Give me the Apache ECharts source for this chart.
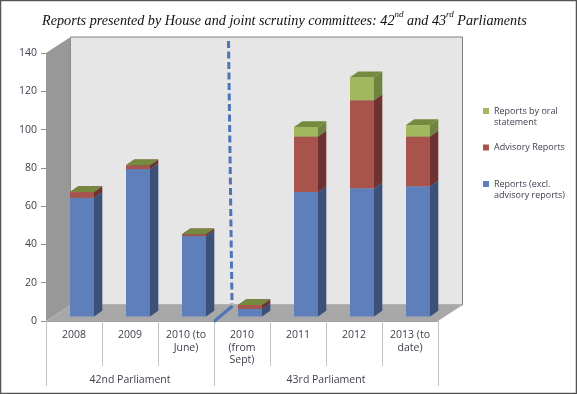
<!DOCTYPE html>
<html>
<head>
<meta charset="utf-8">
<style>html,body{margin:0;padding:0;background:#fff}#c{width:577px;height:394px}</style>
<script src="https://cdn.jsdelivr.net/npm/echarts@6/dist/echarts.min.js"></script>
</head>
<body>
<div id="c"></div>
<script>
var categories = ['2008', '2009', '2010 (to\nJune)', '2010\n(from\nSept)', '2011', '2012', '2013 (to\ndate)'];
var parliaments = ['42nd Parliament', '43rd Parliament'];
var parliamentCentres = [1.5, 5];
var parliamentBounds = [0, 3, 7];
var reports = [62, 77, 42, 4, 65, 67, 68];
var advisory = [3, 2, 1, 2, 29, 46, 26];
var oral = [0, 0, 0, 0, 5, 12, 6];
var yTicks = [0, 140];

var FONT = '"Open Sans"';
var TEXT = '#404050';
var seriesDefs = [
  {name: 'Reports (excl. advisory reports)', values: reports, front: '#5f7fba', side: '#3c5078', top: '#4a6494'},
  {name: 'Advisory Reports', values: advisory, front: '#a8544c', side: '#6e3330', top: '#86403a'},
  {name: 'Reports by oral statement', values: oral, front: '#a1b85f', side: '#6f853f', top: '#75893f'}
];
var legendNames = ['Reports by oral statement', 'Advisory Reports', 'Reports (excl. advisory reports)'];
var legendText = {
  'Reports by oral statement': '\nReports by oral\nstatement',
  'Advisory Reports': 'Advisory Reports',
  'Reports (excl. advisory reports)': '\nReports (excl.\nadvisory reports)'
};

var WALL_DX = 24.5, WALL_DY = -16;
var BAR_OFF_X = 8, BAR_OFF_Y = -4.5, BAR_DX = 8.3, BAR_DY = -5.7, BAR_W = 24;

function renderWalls(params, api) {
  var cs = params.coordSys;
  var x0 = cs.x, x1 = cs.x + cs.width, yT = cs.y, yB = cs.y + cs.height;
  var d = WALL_DX, h = WALL_DY;
  var divide = x0 + cs.width * 3 / 7;
  return {
    type: 'group',
    children: [
      {type: 'rect', shape: {x: x0 + d, y: yT + h, width: cs.width, height: cs.height},
        style: {fill: '#e6e6e6', stroke: '#808080', lineWidth: 1}},
      {type: 'polygon', shape: {points: [[x0, yT], [x0 + d, yT + h], [x0 + d, yB + h], [x0, yB]]},
        style: {fill: '#989898'}},
      {type: 'polygon', shape: {points: [[x0, yB], [x1, yB], [x1 + d, yB + h], [x0 + d, yB + h]]},
        style: {fill: '#a8a8a8'}},
      {type: 'line', shape: {x1: divide + 14.5, y1: yT - 12, x2: divide + 18, y2: yB - 17},
        style: {stroke: '#4f74b8', lineWidth: 3, lineDash: [7, 3.5]}},
      {type: 'line', shape: {x1: divide + 18.5, y1: yB - 15, x2: divide, y2: yB + 0.5},
        style: {stroke: '#4f74b8', lineWidth: 3}}
    ]
  };
}

function makeRender(def) {
  return function (params, api) {
    var i = api.value(0);
    var lo = api.coord([i, api.value(1)]);
    var hi = api.coord([i, api.value(2)]);
    var x0 = lo[0] - BAR_W / 2 + BAR_OFF_X, x1 = x0 + BAR_W;
    var yb = lo[1] + BAR_OFF_Y, yt = hi[1] + BAR_OFF_Y;
    var dx = BAR_DX, dy = BAR_DY;
    return {
      type: 'group',
      children: [
        {type: 'polygon', shape: {points: [[x1, yb], [x1 + dx, yb + dy], [x1 + dx, yt + dy], [x1, yt]]},
          style: {fill: def.side}},
        {type: 'rect', shape: {x: x0, y: yt, width: BAR_W, height: yb - yt},
          style: {fill: def.front}},
        {type: 'polygon', shape: {points: [[x0, yt], [x1, yt], [x1 + dx, yt + dy], [x0 + dx, yt + dy]]},
          style: {fill: def.top}}
      ]
    };
  };
}

var cumulative = categories.map(function () { return 0; });
var barSeries = seriesDefs.map(function (def, k) {
  var rows = def.values.map(function (v, i) {
    var start = cumulative[i];
    cumulative[i] = start + v;
    return [i, start, start + v];
  });
  return {
    type: 'custom', name: def.name, renderItem: makeRender(def), clip: false, silent: true,
    z: 5 + k, itemStyle: {color: def.front}, legendIcon: 'rect',
    encode: {x: 0, y: [1, 2]}, data: rows
  };
});

var chart = echarts.init(document.getElementById('c'), null, {renderer: 'canvas'});
chart.setOption({
  animation: false,
  backgroundColor: '#fff',
  textStyle: {fontFamily: FONT},
  title: {
    left: 37, top: 5,
    text: '{i|Reports presented by House and joint scrutiny committees: 42}{s|nd}{i| and 43}{s|rd}{i| Parliaments}',
    textStyle: {
      fontWeight: 'normal',
      rich: {
        i: {fontFamily: 'Liberation Serif', fontStyle: 'italic', fontWeight: 'normal', fontSize: 14.2, color: '#111', lineHeight: 18, verticalAlign: 'bottom'},
        s: {fontFamily: 'Liberation Serif', fontStyle: 'italic', fontWeight: 'normal', fontSize: 9, color: '#111', lineHeight: 18, verticalAlign: 'top'}
      }
    }
  },
  legend: {
    orient: 'vertical', left: 483, top: 94.5, itemWidth: 6, itemHeight: 6, itemGap: 14.5, icon: 'rect',
    data: legendNames, padding: 0, selectedMode: false,
    formatter: function (n) { return legendText[n]; },
    textStyle: {fontFamily: FONT, fontSize: 9, lineHeight: 11, color: TEXT}
  },
  grid: {left: 46, right: 139, top: 53, bottom: 73},
  xAxis: [
    {
      type: 'category', data: categories, position: 'bottom',
      axisLine: {show: true, lineStyle: {color: '#a0a0a0', width: 1}},
      axisTick: {show: true, interval: 0, alignWithLabel: false, length: 45, lineStyle: {color: '#c4c4c4'}},
      axisLabel: {interval: 0, margin: 8, fontFamily: FONT, fontSize: 10.5, lineHeight: 12.5, color: TEXT},
      splitLine: {show: false}
    },
    {
      type: 'value', position: 'bottom', min: 0, max: 7,
      axisLine: {show: false},
      splitLine: {show: false},
      axisTick: {show: true, customValues: parliamentBounds, length: 65, lineStyle: {color: '#c4c4c4'}},
      axisLabel: {
        show: true, customValues: parliamentCentres, margin: 54, fontFamily: FONT, fontSize: 10.5, color: TEXT,
        showMinLabel: true, showMaxLabel: true,
        formatter: function (v) { return parliaments[parliamentCentres.indexOf(v)]; }
      }
    }
  ],
  yAxis: {
    type: 'value', min: yTicks[0], max: yTicks[1], interval: 20,
    axisLine: {show: false},
    axisTick: {show: true, length: 5, lineStyle: {color: '#8c8c8c'}},
    axisLabel: {margin: 9, fontFamily: FONT, fontSize: 10.5, color: TEXT},
    splitLine: {show: false}
  },
  series: [{
    type: 'custom', name: 'walls', renderItem: renderWalls, clip: false, silent: true, z: 1,
    encode: {x: 0, y: 1}, data: [[0, 0]]
  }].concat(barSeries),
  graphic: [{
    type: 'rect', silent: true, z: 100,
    shape: {x: 0.5, y: 0.5, width: 576, height: 393},
    style: {fill: 'none', stroke: '#555', lineWidth: 1.5}
  }]
});
</script>
</body>
</html>
